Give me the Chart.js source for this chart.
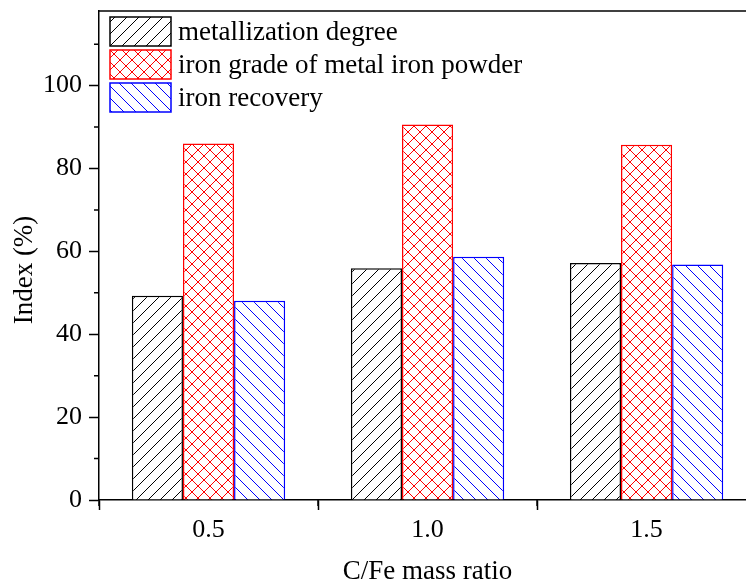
<!DOCTYPE html>
<html><head><meta charset="utf-8">
<script src="https://cdn.jsdelivr.net/npm/chart.js@4/dist/chart.umd.min.js"></script>
<style>
html,body{margin:0;padding:0;background:#fff;overflow:hidden;}
canvas{display:block;}
</style>
</head><body>
<canvas id="c" width="746" height="583"></canvas>
<script>
// ---- data ----
const xValues = [0.5, 1.0, 1.5];
const xTickLabels = ['0.5', '1.0', '1.5'];
const xMinorTickValues = [0.25, 0.75, 1.25];
const metallizationDegree = [49.3, 55.9, 57.2];
const ironGrade = [86.0, 90.6, 85.7];
const ironRecovery = [48.1, 58.7, 56.8];
const seriesLabels = ['metallization degree', 'iron grade of metal iron powder', 'iron recovery'];
const yTickValues = [0, 20, 40, 60, 80, 100];
const yMinorTickValues = [10, 30, 50, 70, 90, 110];
const xTitle = 'C/Fe mass ratio';
const yTitle = 'Index (%)';

const FONT = "'Liberation Serif', 'Times New Roman', serif";
Chart.defaults.font.family = FONT;

function makePattern(kind, color) {
  const s = 12;
  const c = document.createElement('canvas');
  c.width = s; c.height = s;
  const g = c.getContext('2d');
  g.fillStyle = '#fff';
  g.fillRect(0, 0, s, s);
  g.strokeStyle = color;
  g.lineWidth = 1;
  const fwd = () => {
    g.beginPath();
    g.moveTo(-1, s + 1); g.lineTo(s + 1, -1);
    g.moveTo(-1, 1); g.lineTo(1, -1);
    g.moveTo(s - 1, s + 1); g.lineTo(s + 1, s - 1);
    g.stroke();
  };
  const back = () => {
    g.beginPath();
    g.moveTo(-1, -1); g.lineTo(s + 1, s + 1);
    g.moveTo(s - 1, -1); g.lineTo(s + 1, 1);
    g.moveTo(-1, s - 1); g.lineTo(1, s + 1);
    g.stroke();
  };
  if (kind === '/') fwd();
  if (kind === '\\') back();
  if (kind === 'x') { fwd(); back(); }
  return g.createPattern(c, 'repeat');
}

const pBlack = makePattern('/', '#000');
const pRed = makePattern('x', '#ff0000');
const pBlue = makePattern('\\', '#0000ff');

const toPoints = arr => arr.map((v, i) => ({ x: xValues[i], y: v }));

const datasets = [
  { label: seriesLabels[0], data: toPoints(metallizationDegree), backgroundColor: pBlack, borderColor: '#000', borderWidth: 1.5 },
  { label: seriesLabels[1], data: toPoints(ironGrade), backgroundColor: pRed, borderColor: '#ff0000', borderWidth: 1.5 },
  { label: seriesLabels[2], data: toPoints(ironRecovery), backgroundColor: pBlue, borderColor: '#0000ff', borderWidth: 1.5 }
];

const framePlugin = {
  id: 'frame',
  afterDraw(chart) {
    const { ctx, chartArea: a, scales: { x, y } } = chart;
    ctx.save();
    ctx.strokeStyle = '#000';
    ctx.lineWidth = 1.5;
    // top frame
    ctx.beginPath();
    ctx.moveTo(a.left, a.top); ctx.lineTo(a.right, a.top);
    ctx.stroke();
    // minor ticks
    ctx.beginPath();
    yMinorTickValues.forEach(v => {
      const py = y.getPixelForValue(v);
      ctx.moveTo(a.left - 5, py); ctx.lineTo(a.left, py);
    });
    xMinorTickValues.forEach(v => {
      const px = x.getPixelForValue(v);
      ctx.moveTo(px, a.bottom); ctx.lineTo(px, a.bottom + 6);
    });
    ctx.stroke();
    ctx.fillStyle = '#000';
    ctx.font = "27px " + FONT;
    // x title (centred under the middle group, as in the original)
    ctx.textAlign = 'center';
    ctx.textBaseline = 'middle';
    ctx.fillText(xTitle, x.getPixelForValue(xValues[1]), 572);
    // y title
    ctx.save();
    ctx.translate(25, 270);
    ctx.rotate(-Math.PI / 2);
    ctx.textAlign = 'center';
    ctx.textBaseline = 'middle';
    ctx.fillText(yTitle, 0, 0);
    ctx.restore();
    // legend
    const bx = a.left + 11, bw = 61, bh = 29, rowH = 33;
    chart.data.datasets.forEach((ds, i) => {
      const by = a.top + 6 + i * rowH;
      ctx.fillStyle = ds.backgroundColor;
      ctx.fillRect(bx, by, bw, bh);
      ctx.strokeStyle = ds.borderColor;
      ctx.lineWidth = 1.5;
      ctx.strokeRect(bx, by, bw, bh);
      ctx.fillStyle = '#000';
      ctx.textAlign = 'left';
      ctx.textBaseline = 'middle';
      ctx.fillText(ds.label, bx + bw + 7, by + bh / 2 + 1);
    });
    ctx.restore();
  }
};

new Chart(document.getElementById('c'), {
  type: 'bar',
  data: { datasets },
  options: {
    responsive: false,
    animation: false,
    layout: { padding: { left: 0, top: 11, right: 0, bottom: 0 } },
    datasets: { bar: { categoryPercentage: 0.7, barPercentage: 1.0 } },
    plugins: { legend: { display: false }, tooltip: { enabled: false } },
    scales: {
      x: {
        type: 'linear',
        min: 0.25, max: 1.727,
        offset: false,
        afterBuildTicks: s => { s.ticks = xValues.map(v => ({ value: v })); },
        afterFit: s => { s.height = 83; s.paddingLeft = 0; s.paddingRight = 0; },
        ticks: { font: { size: 26, family: FONT }, color: '#000', padding: 5, callback: (v, i) => xTickLabels[i] },
        grid: { drawOnChartArea: false, tickLength: 10, color: '#000', tickWidth: 1.5 },
        border: { display: true, color: '#000', width: 1.5 },
        title: { display: false }
      },
      y: {
        min: 0, max: 118,
        afterBuildTicks: s => { s.ticks = yTickValues.map(v => ({ value: v })); },
        afterFit: s => { s.width = 99; s.paddingTop = 0; s.paddingBottom = 0; },
        ticks: { font: { size: 26, family: FONT }, color: '#000', padding: 7 },
        grid: { drawOnChartArea: false, tickLength: 10, color: '#000', tickWidth: 1.5 },
        border: { display: true, color: '#000', width: 1.5 }
      }
    }
  },
  plugins: [framePlugin]
});
</script>
</body></html>
